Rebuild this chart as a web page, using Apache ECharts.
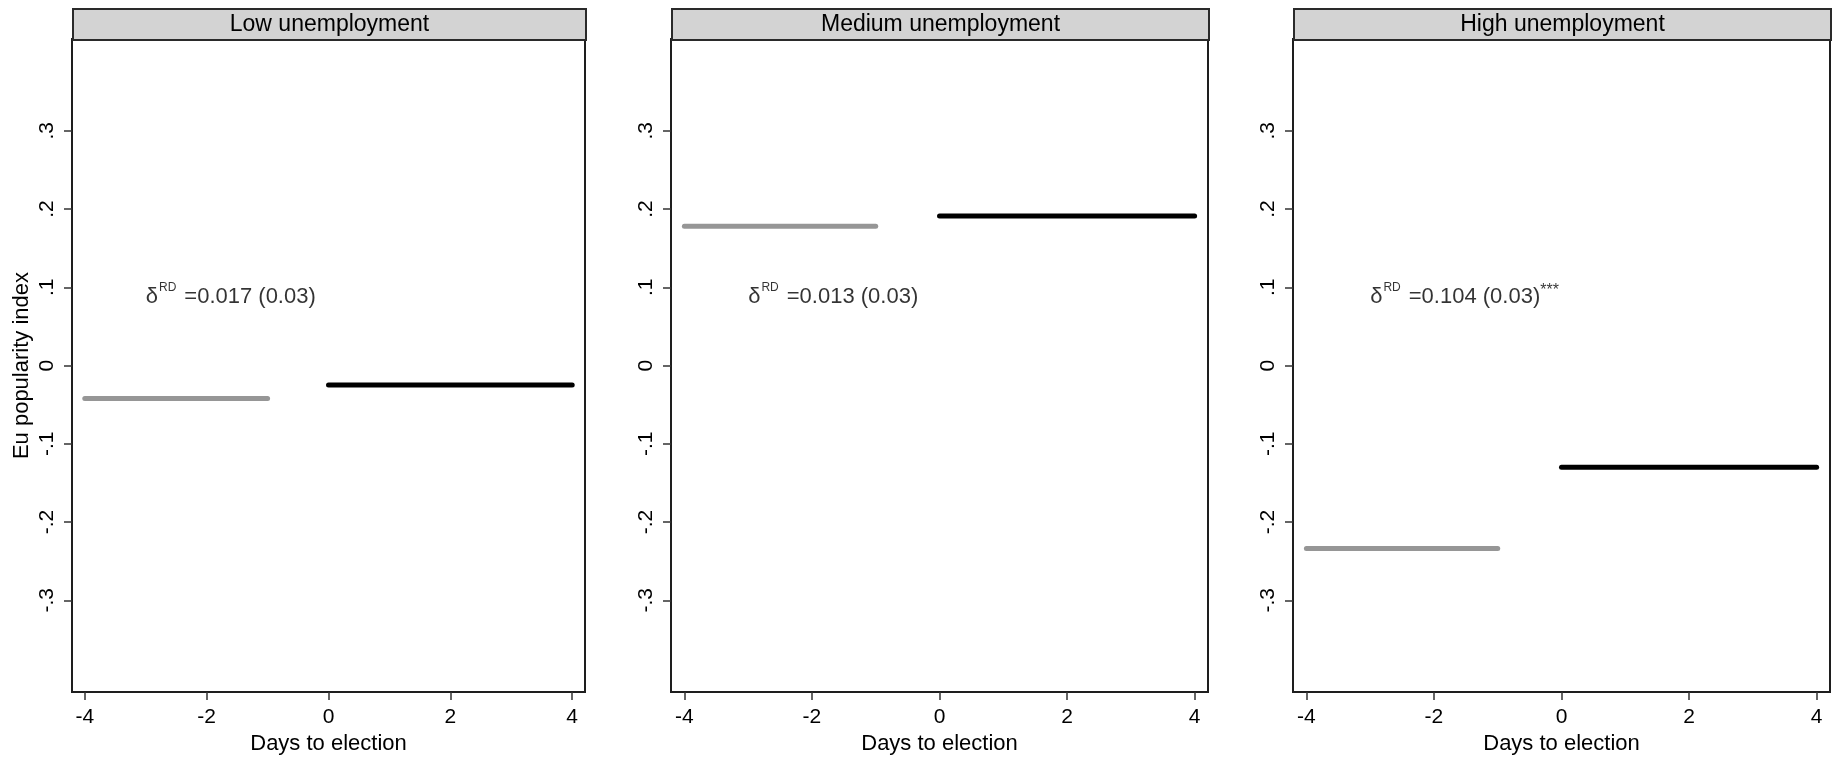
<!DOCTYPE html>
<html lang="en">
  <head>
    <meta charset="utf-8" />
    <title>RD by unemployment</title>
    <script src="https://cdn.jsdelivr.net/npm/echarts@6/dist/echarts.min.js"></script>
  </head>
  <body style="margin:0; background:#fff;">
    <div id="main" style="width: 1838px; height: 760px;"></div>
    <script type="text/javascript">
      // data
      const panelTitles = ['Low unemployment', 'Medium unemployment', 'High unemployment']
      const beforeRange = [-4, -1]
      const afterRange = [0, 4]
      const beforeValues = [-0.042, 0.178, -0.234]
      const afterValues = [-0.025, 0.191, -0.130]
      const rdEstimate = ['0.017', '0.013', '0.104']
      const rdSE = ['0.03', '0.03', '0.03']
      const rdStars = ['', '', '***']
      const labelPos = [-3, 0.09]
      const xTicks = [-4, -2, 0, 2, 4]
      const yTicks = [-0.3, -0.2, -0.1, 0, 0.1, 0.2, 0.3]
      const yTickLabels = ['-.3', '-.2', '-.1', '0', '.1', '.2', '.3']

      const xMin = -4.21, xMax = 4.21
      const yMin = -0.4174, yMax = 0.4174

      const font = 'Liberation Sans, Arial, sans-serif'
      const panelBox = [
        {left: 72, width: 513},
        {left: 671, width: 537},
        {left: 1293, width: 537}
      ]
      const plotTop = 39
      const plotHeight = 658
      const tickLen = 8

      const myChart = echarts.init(document.getElementById('main'))

      let grids = []
      let xAxes = []
      let yAxes = []
      let series = []
      let graphics = []

      panelTitles.forEach((title, i) => {
        const box = panelBox[i]
        grids.push({
          left: box.left, top: plotTop, width: box.width, height: plotHeight,
          show: true, borderColor: '#1e1e1e', borderWidth: 2
        })
        // axes sit one tick length outside the frame, ticks point back to it
        xAxes.push({
          type: 'value', gridIndex: i, min: xMin, max: xMax, position: 'bottom',
          offset: tickLen,
          name: 'Days to election', nameLocation: 'middle', nameGap: 28,
          nameTextStyle: {fontFamily: font, fontSize: 22, color: '#000'},
          axisLine: {show: false, onZero: false},
          axisTick: {show: true, inside: true, length: tickLen, customValues: xTicks,
                     lineStyle: {color: '#333', width: 1.5}},
          axisLabel: {customValues: xTicks, margin: 7, fontFamily: font,
                      fontSize: 21, color: '#000'},
          splitLine: {show: false}
        })
        yAxes.push({
          type: 'value', gridIndex: i, min: yMin, max: yMax, position: 'left',
          offset: tickLen,
          name: i === 0 ? 'Eu popularity index' : '',
          nameLocation: 'middle', nameGap: 31,
          nameTextStyle: {fontFamily: font, fontSize: 22, color: '#000'},
          axisLine: {show: false, onZero: false},
          axisTick: {show: true, inside: true, length: tickLen, customValues: yTicks,
                     lineStyle: {color: '#333', width: 1.5}},
          axisLabel: {
            customValues: yTicks, rotate: 90, margin: 6, fontFamily: font,
            fontSize: 21, color: '#000',
            formatter: (v) => {
              const k = yTicks.findIndex(t => Math.abs(t - v) < 1e-9)
              return k >= 0 ? yTickLabels[k] : ''
            }
          },
          splitLine: {show: false}
        })
        series.push({
          type: 'line', xAxisIndex: i, yAxisIndex: i, showSymbol: false, silent: true,
          data: beforeRange.map(d => [d, beforeValues[i]]),
          lineStyle: {color: '#969696', width: 5, cap: 'round'}
        })
        series.push({
          type: 'line', xAxisIndex: i, yAxisIndex: i, showSymbol: false, silent: true,
          data: afterRange.map(d => [d, afterValues[i]]),
          lineStyle: {color: '#000', width: 5, cap: 'round'}
        })
        series.push({
          type: 'scatter', xAxisIndex: i, yAxisIndex: i, symbolSize: 0, silent: true,
          data: [labelPos],
          label: {
            show: true, position: 'right', distance: 0,
            formatter: '{d|δ}{s|RD}{t|=' + rdEstimate[i] + ' (' + rdSE[i] + ')}' +
                       (rdStars[i] ? '{s2|' + rdStars[i] + '}' : ''),
            rich: {
              d: {fontFamily: font, fontSize: 22, color: '#000', lineHeight: 26, verticalAlign: 'bottom'},
              s: {fontFamily: font, fontSize: 12, color: '#000', lineHeight: 26, verticalAlign: 'top',
                  padding: [0, 8, 0, 1]},
              t: {fontFamily: font, fontSize: 22, color: '#000', lineHeight: 26, verticalAlign: 'bottom'},
              s2: {fontFamily: font, fontSize: 16, color: '#000', lineHeight: 26, verticalAlign: 'top'}
            }
          }
        })
        graphics.push({
          type: 'group', left: box.left, top: 8,
          children: [
            {type: 'rect', shape: {x: 0, y: 0, width: box.width, height: 31},
             style: {fill: '#d3d3d3', stroke: '#2a2a2a', lineWidth: 2}},
            {type: 'text', x: box.width / 2, y: 16,
             style: {text: title, fontFamily: font, fontSize: 23, fill: '#000',
                     align: 'center', verticalAlign: 'middle'}}
          ]
        })
      })

      const option = {
        animation: false,
        backgroundColor: '#fff',
        grid: grids,
        xAxis: xAxes,
        yAxis: yAxes,
        series: series,
        graphic: graphics
      }
      myChart.setOption(option)
    </script>
  </body>
</html>
